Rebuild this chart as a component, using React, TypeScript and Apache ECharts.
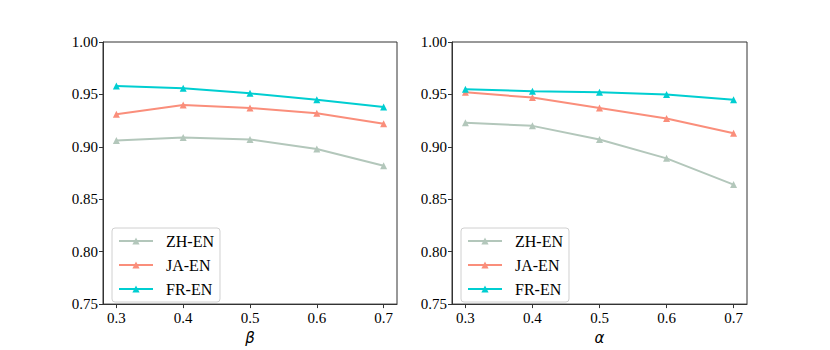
import React, { useEffect, useRef } from "react";
import * as echarts from "echarts";

const xValues = [0.3, 0.4, 0.5, 0.6, 0.7];
const seriesNames = ["ZH-EN", "JA-EN", "FR-EN"];
const betaZH = [0.906, 0.909, 0.907, 0.898, 0.882];
const betaJA = [0.931, 0.94, 0.937, 0.932, 0.922];
const betaFR = [0.958, 0.956, 0.951, 0.945, 0.938];
const alphaZH = [0.923, 0.92, 0.907, 0.889, 0.864];
const alphaJA = [0.952, 0.947, 0.937, 0.927, 0.913];
const alphaFR = [0.955, 0.953, 0.952, 0.95, 0.945];
const colors = ["#b3c7bb", "#fa8e7b", "#00ced1"];

const serif = "Liberation Serif";

export default function App() {
  const ref = useRef<HTMLDivElement>(null);
  useEffect(() => {
    if (!ref.current) return;
    const chart = echarts.init(ref.current, null, { renderer: "svg" });
    const grids = [
      { left: 103, top: 42, width: 294, height: 270 },
      { left: 452, top: 42, width: 295, height: 270 },
    ];
    const axisNames = ["β", "α"];
    const data = [
      [betaZH, betaJA, betaFR],
      [alphaZH, alphaJA, alphaFR],
    ];
    const xAxis = grids.map((_, i) => ({
      type: "value",
      gridIndex: i,
      min: 0.28,
      max: 0.72,
      name: axisNames[i],
      nameLocation: "middle",
      nameGap: 25,
      nameTextStyle: { fontFamily: "DejaVu Sans", fontStyle: "italic", fontSize: 15, color: "#000" },
      axisLine: { show: true, lineStyle: { color: "#333", width: 1 } },
      axisTick: { show: true, inside: false, length: 4, lineStyle: { color: "#333" }, customValues: xValues },
      axisLabel: {
        customValues: xValues,
        formatter: (v: number) => v.toFixed(1),
        fontFamily: serif,
        fontSize: 15,
        color: "#000",
        margin: 6,
      },
      splitLine: { show: false },
    }));
    const yAxis = grids.map((_, i) => ({
      type: "value",
      gridIndex: i,
      min: 0.75,
      max: 1.0,
      interval: 0.05,
      axisLine: { show: true, lineStyle: { color: "#333", width: 1 } },
      axisTick: { show: true, inside: false, length: 4, lineStyle: { color: "#333" } },
      axisLabel: {
        formatter: (v: number) => v.toFixed(2),
        fontFamily: serif,
        fontSize: 15,
        color: "#000",
        margin: 5,
      },
      splitLine: { show: false },
    }));
    const series: any[] = [];
    data.forEach((group, gi) => {
      group.forEach((vals, si) => {
        series.push({
          type: "line",
          name: seriesNames[si],
          xAxisIndex: gi,
          yAxisIndex: gi,
          data: vals.map((v, k) => [xValues[k], v]),
          symbol: "triangle",
          symbolSize: 7,
          color: colors[si],
          lineStyle: { width: 2, color: colors[si] },
          itemStyle: { color: colors[si] },
        });
      });
    });
    const legend = grids.map((g) => ({
      orient: "vertical",
      left: g.left + 9,
      top: 228,
      data: seriesNames,
      itemWidth: 34,
      itemHeight: 9,
      itemGap: 8,
      padding: [5, 6, 5, 6],
      borderColor: "#d0d0d0",
      borderWidth: 1,
      borderRadius: 3,
      backgroundColor: "#fff",
      selectedMode: false,
      textStyle: { fontFamily: serif, fontSize: 16, color: "#000", padding: [0, 0, 0, 8] },
    }));
    chart.setOption({
      animation: false,
      backgroundColor: "#fff",
      textStyle: { fontFamily: serif },
      grid: grids.map((g) => ({ ...g, show: true, borderColor: "#333", borderWidth: 1, backgroundColor: "transparent" })),
      xAxis,
      yAxis,
      legend,
      series,
    });
    return () => chart.dispose();
  }, []);
  return <div ref={ref} style={{ position: "fixed", left: 0, top: 0, width: 830, height: 350 }} />;
}
